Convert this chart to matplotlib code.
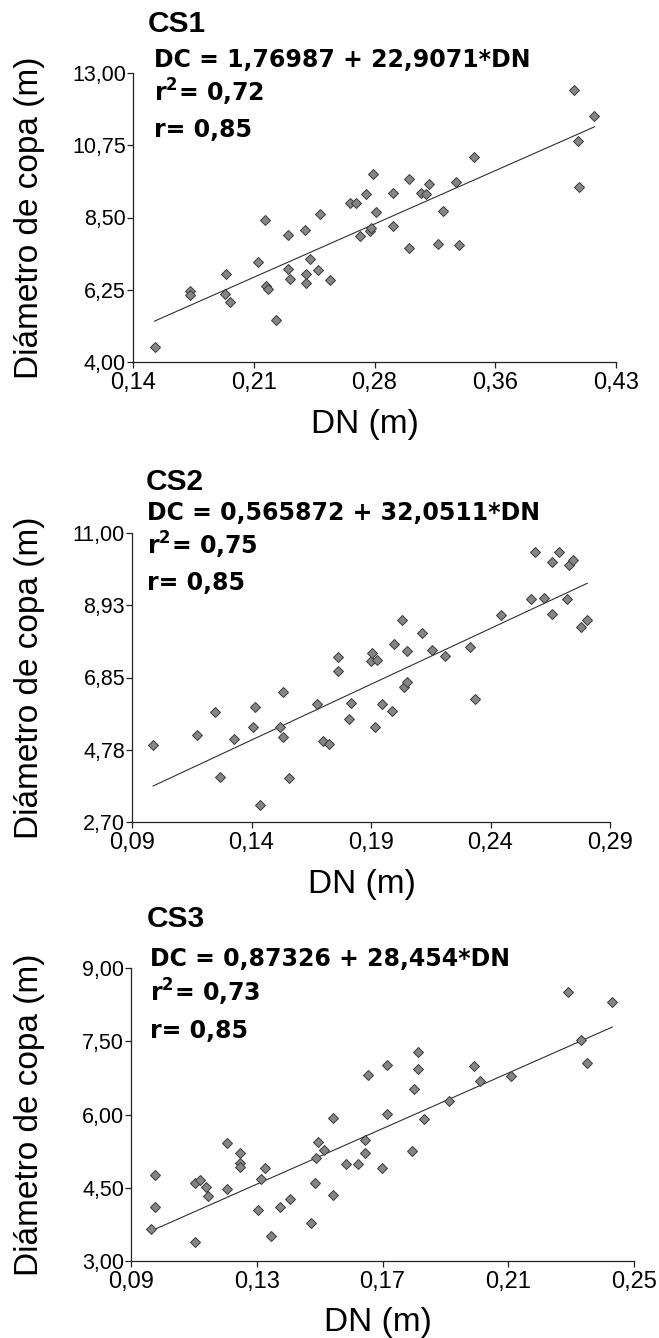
import numpy as np
import matplotlib.pyplot as plt

plt.rcParams['mathtext.fontset'] = 'dejavusans'

# CS1
dn1 = [0.153, 0.174, 0.174, 0.195, 0.196, 0.198, 0.215, 0.219, 0.220, 0.221, 0.226, 0.233, 0.233, 0.234,
       0.243, 0.244, 0.244, 0.246, 0.251, 0.252, 0.258, 0.270, 0.274, 0.276, 0.280, 0.282, 0.283, 0.284,
       0.286, 0.296, 0.296, 0.306, 0.306, 0.313, 0.316, 0.318, 0.323, 0.326, 0.334, 0.336, 0.345, 0.405,
       0.407, 0.408, 0.417]
dc1 = [4.47, 6.22, 6.09, 6.13, 6.75, 5.86, 7.10, 8.41, 6.36, 6.27, 5.32, 7.94, 6.90, 6.59,
       8.10, 6.75, 6.47, 7.20, 6.86, 8.60, 6.55, 8.94, 8.94, 7.91, 9.22, 8.09, 8.18, 9.84,
       8.68, 9.25, 8.25, 9.69, 7.56, 9.25, 9.22, 9.53, 7.68, 8.71, 9.61, 7.63, 10.39, 12.47,
       10.88, 9.46, 11.66]

# CS2
dn2 = [0.0988, 0.1173, 0.1246, 0.1267, 0.1328, 0.1406, 0.1413, 0.1437, 0.1519, 0.1533, 0.1533, 0.1555,
       0.1673, 0.1699, 0.1724, 0.1764, 0.1764, 0.1806, 0.1817, 0.1898, 0.1905, 0.1915, 0.1925, 0.1945,
       0.1987, 0.1997, 0.2029, 0.2039, 0.2050, 0.2050, 0.2114, 0.2156, 0.2209, 0.2315, 0.2337, 0.2446,
       0.2568, 0.2588, 0.2624, 0.2656, 0.2656, 0.2687, 0.2719, 0.2729, 0.2747, 0.2779, 0.2805]
dc2 = [4.91, 5.20, 5.87, 4.00, 5.09, 5.42, 6.01, 3.18, 5.42, 6.43, 5.13, 3.97,
       6.09, 5.02, 4.95, 7.43, 7.05, 5.67, 6.13, 7.33, 7.54, 5.44, 7.35, 6.09,
       5.88, 7.82, 8.51, 6.58, 6.73, 7.60, 8.14, 7.64, 7.47, 7.72, 6.23, 8.64,
       9.10, 10.45, 9.13, 10.17, 8.68, 10.45, 9.10, 10.09, 10.22, 8.31, 8.51]

# CS3
dn3 = [0.0964, 0.0976, 0.0976, 0.1105, 0.1105, 0.1118, 0.1137, 0.1145, 0.1204, 0.1204, 0.1246, 0.1246,
       0.1246, 0.1304, 0.1314, 0.1326, 0.1346, 0.1375, 0.1406, 0.1474, 0.1486, 0.1487, 0.1494, 0.1514,
       0.1542, 0.1542, 0.1583, 0.1623, 0.1643, 0.1643, 0.1654, 0.1697, 0.1715, 0.1715, 0.1794, 0.1801,
       0.1814, 0.1814, 0.1833, 0.1910, 0.1991, 0.2011, 0.2110, 0.2291, 0.2331, 0.2351, 0.2431]
dc3 = [3.65, 4.11, 4.77, 3.39, 4.60, 4.65, 4.51, 4.33, 5.41, 4.47, 5.22, 5.01,
       4.92, 4.05, 4.67, 4.90, 3.52, 4.11, 4.27, 3.77, 4.60, 5.11, 5.44, 5.28,
       4.36, 5.93, 4.98, 4.98, 5.22, 5.48, 6.81, 4.90, 6.01, 7.01, 5.25, 6.52,
       7.27, 6.93, 5.91, 6.27, 6.99, 6.68, 6.78, 8.51, 7.52, 7.06, 8.31]

titles = ['CS1', 'CS2', 'CS3']
intercepts = [1.76987, 0.565872, 0.87326]
slopes = [22.9071, 32.0511, 28.454]
eq_texts = ['DC = 1,76987 + 22,9071*DN', 'DC = 0,565872 + 32,0511*DN', 'DC = 0,87326 + 28,454*DN']
r2_texts = [r'r$^{\mathbf{2}}$= 0,72', r'r$^{\mathbf{2}}$= 0,75', r'r$^{\mathbf{2}}$= 0,73']
r_texts = ['r= 0,85', 'r= 0,85', 'r= 0,85']

x_ranges = [(0.14, 0.43), (0.09, 0.29), (0.09, 0.25)]
y_ranges = [(4.0, 13.0), (2.7, 11.0), (3.0, 9.0)]
x_ticklabels = [['0,14', '0,21', '0,28', '0,36', '0,43'],
                ['0,09', '0,14', '0,19', '0,24', '0,29'],
                ['0,09', '0,13', '0,17', '0,21', '0,25']]
y_ticklabels = [['4,00', '6,25', '8,50', '10,75', '13,00'],
                ['2,70', '4,78', '6,85', '8,93', '11,00'],
                ['3,00', '4,50', '6,00', '7,50', '9,00']]

W, H = 659, 1338
# axes box in pixels: left, right, top, bottom
boxes = [(133, 616, 73, 362), (132, 610, 533, 822), (131, 634, 968, 1261)]
# text anchors in pixels (x, baseline y)
title_pos = [(148, 32), (146, 490), (147, 927)]
eq_pos = [(154, (67, 102, 137)), (147, (520, 555, 590)), (150, (966, 1002, 1038))]
xlabel_pos = [(365, 433), (362, 893), (378, 1331)]

FONT = 'Liberation Sans'


def fx(p):
    return p / W


def fy(p):
    return 1 - p / H


fig = plt.figure(figsize=(W / 100, H / 100), dpi=100)

data = [(dn1, dc1), (dn2, dc2), (dn3, dc3)]
for i, (dn, dc) in enumerate(data):
    l, r, t, b = boxes[i]
    ax = fig.add_axes([fx(l), fy(b), (r - l) / W, (b - t) / H])

    ax.plot(dn, dc, linestyle='none', marker='D', ms=5.5,
            mfc='#858585', mec='#3a3a3a', mew=0.7, zorder=3)
    xs = np.array([min(dn), max(dn)])
    ax.plot(xs, intercepts[i] + slopes[i] * xs, color='#303030', lw=0.8, zorder=2)

    ax.set_xlim(*x_ranges[i])
    ax.set_ylim(*y_ranges[i])
    ax.set_xticks(np.linspace(*x_ranges[i], 5))
    ax.set_xticklabels(x_ticklabels[i], fontfamily=FONT, fontsize=17)
    ax.set_yticks(np.linspace(*y_ranges[i], 5))
    ax.set_yticklabels(y_ticklabels[i], fontfamily=FONT, fontsize=15.5)
    for s in ['top', 'right']:
        ax.spines[s].set_visible(False)
    for s in ['left', 'bottom']:
        ax.spines[s].set_linewidth(0.9)
        ax.spines[s].set_color('#222222')
    ax.tick_params(axis='both', direction='out', length=4, width=0.9, color='#222222')
    ax.tick_params(axis='y', pad=1)
    ax.tick_params(axis='x', pad=3)

    # y label
    fig.text(fx(30), fy((t + b) / 2), 'Diámetro de copa (m)', rotation=90,
             ha='center', va='center', fontfamily=FONT, fontsize=24)
    # x label
    fig.text(fx(xlabel_pos[i][0]), fy(xlabel_pos[i][1]), 'DN (m)', ha='center',
             va='baseline', fontfamily=FONT, fontsize=24)

    # panel title and regression text
    fig.text(fx(title_pos[i][0]), fy(title_pos[i][1]), titles[i], ha='left', va='baseline',
             fontfamily=FONT, fontweight='bold', fontsize=21.5)
    ex, (y1, y2, y3) = eq_pos[i]
    for txt, yy in zip([eq_texts[i], r2_texts[i], r_texts[i]], [y1, y2, y3]):
        fig.text(fx(ex), fy(yy), txt, ha='left', va='baseline',
                 fontfamily='DejaVu Sans', fontweight='bold', fontsize=17)

fig.savefig('out.png', dpi=100)
